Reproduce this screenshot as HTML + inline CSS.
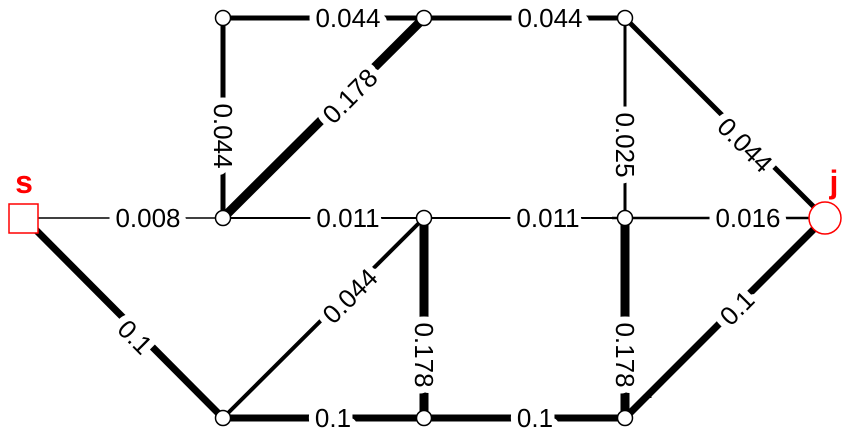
<!DOCTYPE html>
<html><head><style>body{margin:0;background:#fff}</style></head><body>
<svg width="851" height="440" viewBox="0 0 851 440" xmlns="http://www.w3.org/2000/svg" font-family="Liberation Sans, sans-serif">
<g stroke="#000" stroke-linecap="butt">
<line x1="223" y1="18" x2="424" y2="18" stroke-width="5"/>
<line x1="424" y1="18" x2="625" y2="18" stroke-width="5"/>
<line x1="223" y1="18" x2="223" y2="218" stroke-width="5"/>
<line x1="223" y1="218" x2="424" y2="18" stroke-width="9"/>
<line x1="625" y1="18" x2="625" y2="218" stroke-width="3"/>
<line x1="625" y1="18" x2="825" y2="218" stroke-width="5"/>
<line x1="24" y1="218" x2="223" y2="218" stroke-width="1.5"/>
<line x1="223" y1="218" x2="424" y2="218" stroke-width="2"/>
<line x1="424" y1="218" x2="625" y2="218" stroke-width="2"/>
<line x1="612" y1="218" x2="825" y2="218" stroke-width="2.5"/>
<line x1="24" y1="218" x2="223" y2="418" stroke-width="7"/>
<line x1="223" y1="418" x2="424" y2="218" stroke-width="4"/>
<line x1="424" y1="218" x2="424" y2="418" stroke-width="9"/>
<line x1="625" y1="218" x2="625" y2="418" stroke-width="9"/>
<line x1="223" y1="418" x2="625" y2="418" stroke-width="7"/>
<line x1="625" y1="418" x2="825" y2="218" stroke-width="7"/>
<line x1="650" y1="398" x2="650" y2="390" stroke-width="3"/>
</g>
<g font-size="26" text-anchor="middle" dominant-baseline="central" fill="#000" stroke="#fff" stroke-width="14" paint-order="stroke" stroke-linejoin="round">
<text x="348" y="18">0.044</text>
<text x="550" y="18">0.044</text>
<text x="148" y="218">0.008</text>
<text x="348" y="218">0.011</text>
<text x="548" y="218">0.011</text>
<text x="748" y="218">0.016</text>
<text x="333" y="418">0.1</text>
<text x="535" y="418">0.1</text>
<text transform="translate(223,136) rotate(90)">0.044</text>
<text transform="translate(625,145) rotate(90)">0.025</text>
<text transform="translate(424,355) rotate(90)">0.178</text>
<text transform="translate(625,355) rotate(90)">0.178</text>
<text transform="translate(350,96) rotate(-45)">0.178</text>
<text transform="translate(350,296) rotate(-45)">0.044</text>
<text transform="translate(745,145) rotate(45)">0.044</text>
<text transform="translate(135,337) rotate(45)">0.1</text>
<text transform="translate(737,308) rotate(-45)">0.1</text>
</g>
<g fill="#fff" stroke="#000" stroke-width="1.5">
<circle cx="223" cy="18" r="7.5"/><circle cx="424" cy="18" r="7.5"/><circle cx="625" cy="18" r="7.5"/>
<circle cx="223" cy="218" r="7.5"/><circle cx="424" cy="218" r="7.5"/><circle cx="625" cy="218" r="7.5"/>
<circle cx="223" cy="418" r="7.5"/><circle cx="424" cy="418" r="7.5"/><circle cx="625" cy="418" r="7.5"/>
</g>
<rect x="9" y="204" width="29" height="29" fill="#fff" stroke="#f00" stroke-width="1.5"/>
<circle cx="825" cy="218" r="16" fill="#fff" stroke="#f00" stroke-width="1.5"/>
<text x="24" y="193" font-size="32" font-weight="bold" fill="#f00" text-anchor="middle">s</text>
<text x="834" y="193" font-size="32" font-weight="bold" fill="#f00" text-anchor="middle">j</text>
</svg>
</body></html>
